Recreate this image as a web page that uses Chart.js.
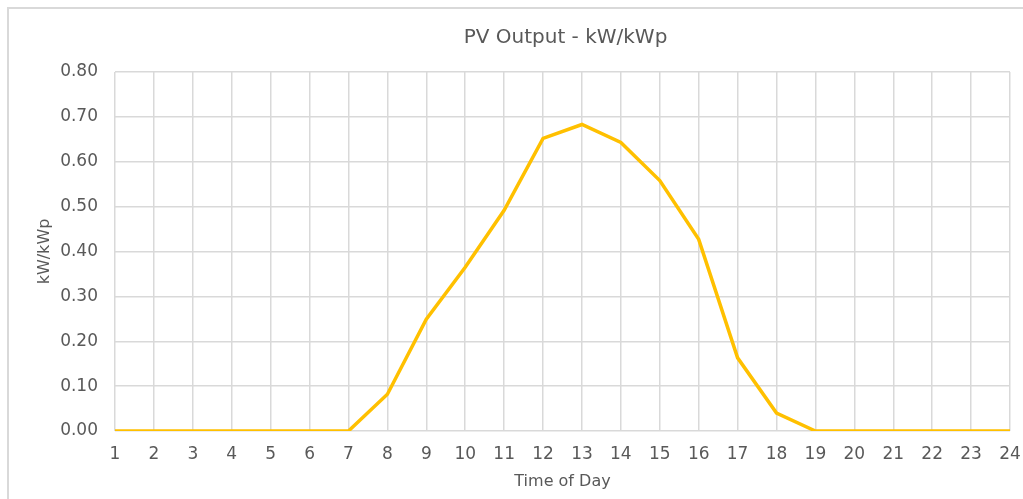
<!DOCTYPE html>
<html>
<head>
<meta charset="utf-8">
<script src="https://cdn.jsdelivr.net/npm/chart.js@4"></script>
<style>
html,body{margin:0;padding:0;background:#fff;width:1023px;height:499px;overflow:hidden;}
#frame{position:absolute;left:7px;top:7px;width:1030px;height:500px;border-left:2px solid #d9d9d9;border-top:2px solid #d9d9d9;}
#wrap{position:absolute;left:0;top:0;width:1023px;height:499px;}
</style>
</head>
<body>
<div id="frame"></div>
<div id="wrap"><canvas id="c" width="1023" height="499"></canvas></div>
<script>
const hours = ['1','2','3','4','5','6','7','8','9','10','11','12','13','14','15','16','17','18','19','20','21','22','23','24'];
const pvOutput = [0,0,0,0,0,0,0,0.082,0.249,0.365,0.492,0.652,0.683,0.643,0.558,0.427,0.163,0.040,0,0,0,0,0,0];
const chartTitle = 'PV Output - kW/kWp';
const xTitle = 'Time of Day';
const yTitle = 'kW/kWp';

const txt = '#595959';
const fam = '"DejaVu Sans", sans-serif';

const centeredTitle = {
  id: 'centeredTitle',
  afterDraw(chart) {
    const {ctx, chartArea} = chart;
    ctx.save();
    ctx.fillStyle = txt;
    ctx.font = '20px ' + fam;
    ctx.textAlign = 'center';
    ctx.textBaseline = 'middle';
    ctx.fillText(chartTitle, (chartArea.left + chartArea.right) / 2 + 3, 38);
    ctx.restore();
  }
};

new Chart(document.getElementById('c'), {
  type: 'line',
  data: {
    labels: hours,
    datasets: [{
      data: pvOutput,
      borderColor: '#FFC000',
      borderWidth: 3.5,
      pointRadius: 0,
      tension: 0,
      fill: false
    }]
  },
  plugins: [centeredTitle],
  options: {
    responsive: false,
    animation: false,
    layout: {padding: {left: 0, right: 13, top: 72, bottom: 0}},
    plugins: {
      legend: {display: false},
      tooltip: {enabled: false},
      title: {display: false}
    },
    scales: {
      x: {
        type: 'category',
        offset: false,
        grid: {color: '#d9d9d9', lineWidth: 1.5, drawTicks: false},
        border: {display: false},
        ticks: {color: txt, font: {family: fam, size: 17}, padding: 13, maxRotation: 0, autoSkip: false},
        title: {display: true, text: xTitle, color: txt, font: {family: fam, size: 16}, padding: {top: 0, bottom: 8}},
        afterFit: s => { s.height = 68; s.paddingRight = 0; s.paddingLeft = 0; }
      },
      y: {
        min: 0, max: 0.8,
        grid: {
          drawTicks: false,
          color: ctx => (Math.round(ctx.tick.value * 100) % 10 === 0) ? '#d9d9d9' : '#f2f2f2',
          lineWidth: 1.5
        },
        border: {display: false},
        ticks: {
          stepSize: 0.05,
          color: txt,
          font: {family: fam, size: 17},
          padding: 17,
          callback: v => (Math.round(v * 100) % 10 === 0) ? v.toFixed(2) : ''
        },
        title: {display: true, text: yTitle, color: txt, font: {family: fam, size: 16}, padding: {top: 35, bottom: 0}},
        afterFit: s => { s.width = 115; }
      }
    }
  }
});
</script>
</body>
</html>
